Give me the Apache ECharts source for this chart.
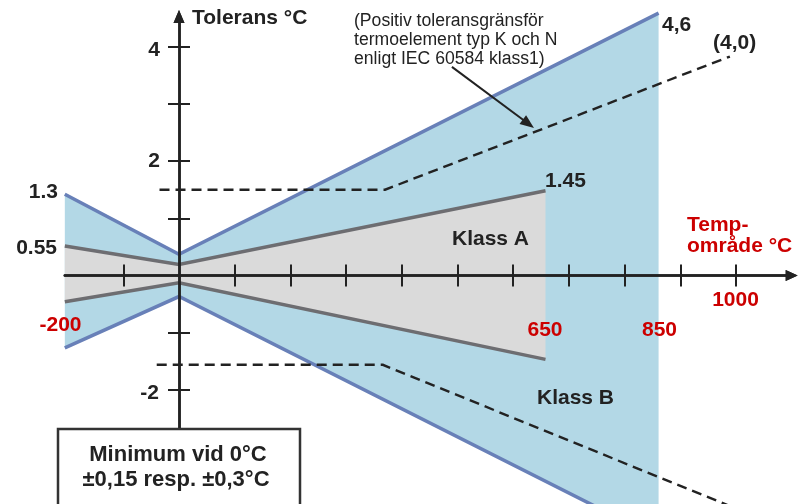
<!DOCTYPE html>
<html><head><meta charset="utf-8">
<script src="https://cdn.jsdelivr.net/npm/echarts@6/dist/echarts.min.js"></script>
<style>html,body{margin:0;padding:0;background:#fff}#c{width:799px;height:504px}</style>
</head><body><div id="c"></div>
<script>
// ---- data (x: temperatur °C, y: tolerans °C) ----
const klassBUpper = [[-205, 1.42], [0, 0.37], [861, 4.59]];
const klassBLower = [[-205, -1.27], [0, -0.37], [861, -4.6]];
const klassAUpper = [[-205, 0.515], [0, 0.19], [658, 1.48]];
const klassALower = [[-205, -0.46], [0, -0.13], [658, -1.47]];
const typKUpper = [[-35, 1.5], [370, 1.5], [989, 3.83]];
const typKLower = [[-40, -1.565], [366, -1.565], [1000, -4.08]];
const noteArrow = [[490, 3.65], [627.3, 2.653]];
const xTicks = [-100, 100, 200, 300, 400, 500, 600, 700, 800, 900, 1000];
const yTicks = [-2, -1, 1, 2, 3, 4];
const yTickLabels = ['4', '2', '-2'];
const xTickLabels = ['1000'];

// ---- layout ----
const X0 = 179, SX = 0.557, Y0 = 275.4, SY = 57.14;
const xMin = -205, xMax = 1100, yMin = -4, yMax = 4.53;
const FONT = '"Liberation Sans", Arial, Helvetica, sans-serif';
const INK = '#222222', RED = '#cc0000';
const BLUE_FILL = '#b3d8e6', BLUE_LINE = '#6880b8';
const GRAY_FILL = '#dadada', GRAY_LINE = '#6d6d71';

const chart = echarts.init(document.getElementById('c'), null, {renderer: 'canvas'});

function lineSeries(data, color, width, area, z, dashed) {
  return {
    type: 'line', data: data, symbol: 'none', clip: false, silent: true, z: z,
    lineStyle: {color: color, width: width, type: dashed ? [10, 6] : 'solid', cap: 'butt', join: 'miter'},
    areaStyle: area ? {color: area, opacity: 1} : undefined
  };
}

const axisLineStyle = {color: INK, width: 2.5};
function xAx(pos) {
  return {
    type: 'value', min: xMin, max: xMax, position: pos, z: 5,
    axisLine: {show: true, onZero: true, lineStyle: axisLineStyle,
      symbol: ['none', 'triangle'], symbolSize: [11, 12]},
    axisTick: {show: true, length: 11, customValues: xTicks, lineStyle: {color: INK, width: 2}},
    axisLabel: {show: false},
    splitLine: {show: false}
  };
}
function yAx(pos) {
  return {
    type: 'value', min: yMin, max: yMax, position: pos, z: 5,
    axisLine: {show: true, onZero: true, lineStyle: axisLineStyle,
      symbol: ['none', 'triangle'], symbolSize: [11, 13]},
    axisTick: {show: true, length: 11, customValues: yTicks, lineStyle: {color: INK, width: 2}},
    axisLabel: {show: false},
    splitLine: {show: false}
  };
}

function txt(text, x, y, opts) {
  opts = opts || {};
  return {
    type: 'text', z: 30, silent: true,
    style: {
      text: text, x: x, y: y,
      align: opts.align || 'left', verticalAlign: opts.va || 'middle',
      font: (opts.weight || 'bold') + ' ' + (opts.size || 21) + 'px ' + FONT,
      fill: opts.color || INK, lineHeight: opts.lh
    }
  };
}

const gTop = Y0 - yMax * SY;
const gBottom = 504 - (Y0 - yMin * SY);
const gLeft = X0 + xMin * SX;
const gRight = 799 - (X0 + xMax * SX);

const dashedUpper = lineSeries(typKUpper, INK, 2.4, null, 4, true);
dashedUpper.markLine = {
  silent: true, symbol: ['none', 'triangle'], symbolSize: [11, 14],
  label: {show: false},
  lineStyle: {color: INK, width: 2, type: 'solid'},
  emphasis: {disabled: true},
  data: [[{coord: noteArrow[0]}, {coord: noteArrow[1]}]]
};

chart.setOption({
  animation: false,
  grid: {left: gLeft, right: gRight, top: gTop, bottom: gBottom,
         containLabel: false, outerBoundsMode: 'none'},
  xAxis: [xAx('bottom'), xAx('top')],
  yAxis: [yAx('left'), yAx('right')],
  series: [
    lineSeries(klassBUpper, BLUE_LINE, 3.5, BLUE_FILL, 2),
    lineSeries(klassBLower, BLUE_LINE, 3.5, BLUE_FILL, 2),
    lineSeries(klassAUpper, GRAY_LINE, 3.5, GRAY_FILL, 3),
    lineSeries(klassALower, GRAY_LINE, 3.5, GRAY_FILL, 3),
    dashedUpper,
    lineSeries(typKLower, INK, 2.4, null, 4, true)
  ],
  graphic: {elements: [
    txt('Tolerans °C', 192, 18),
    txt('(Positiv toleransgränsför\ntermoelement typ K och N\nenligt IEC 60584 klass1)', 354, 12,
        {weight: 'normal', size: 17.6, va: 'top', lh: 19}),
    txt(yTickLabels[0], 160, 50, {align: 'right'}),
    txt(yTickLabels[1], 160, 161, {align: 'right'}),
    txt(yTickLabels[2], 159, 393, {align: 'right'}),
    txt(xTickLabels[0], 735.5, 300, {color: RED, align: 'center'}),
    txt('4,6', 662, 25),
    txt('(4,0)', 713, 43),
    txt('1.3', 58, 192, {align: 'right'}),
    txt('0.55', 57, 248, {align: 'right'}),
    txt('1.45', 545, 181),
    txt('Klass A', 452, 239),
    txt('Klass B', 537, 398),
    txt('Temp-', 687, 225, {color: RED}),
    txt('område °C', 687, 246, {color: RED}),
    txt('-200', 60.5, 325, {color: RED, align: 'center'}),
    txt('650', 545, 330, {color: RED, align: 'center'}),
    txt('850', 659.5, 330, {color: RED, align: 'center'}),
    {type: 'rect', z: 25, silent: true, shape: {x: 58, y: 429, width: 242, height: 100},
     style: {fill: '#ffffff', stroke: '#333333', lineWidth: 2.5}},
    txt('Minimum vid 0°C', 178, 455, {align: 'center', size: 22}),
    txt('±0,15 resp. ±0,3°C', 176, 480, {align: 'center', size: 22})
  ]}
});
</script>
</body></html>
